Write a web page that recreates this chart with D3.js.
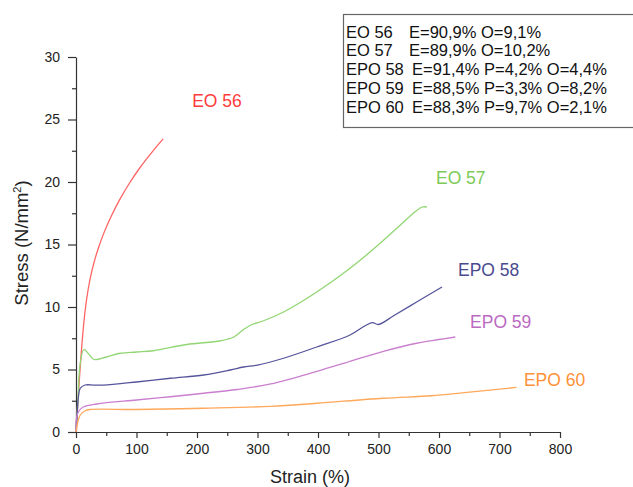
<!DOCTYPE html>
<html>
<head>
<meta charset="utf-8">
<script src="https://cdn.jsdelivr.net/npm/d3@7"></script>
<style>
  body { margin: 0; background: #fff; }
  svg { font-family: "Liberation Sans", Arial, sans-serif; }
  .axis path, .axis line { stroke: #333; stroke-width: 1.2; }
  .axis text { fill: #222; font-size: 14px; }
</style>
</head>
<body>
<div id="chart"></div>
<script>
// series (strain %, stress N/mm2)
var eo56Strain = [0, 2, 4, 6.5, 9.5, 12.5, 16, 20, 25, 31, 38, 47, 58, 72, 88, 105, 125, 144];
var eo56Stress = [0, 1.54, 3.06, 4.86, 6.84, 8.52, 10.06, 11.38, 12.63, 13.77, 14.86, 16.03, 17.24, 18.57, 19.88, 21.1, 22.35, 23.45];

var eo57Strain = [0, 3, 7, 13, 20, 30, 50, 73, 100, 128, 183, 239, 261, 277, 291, 310, 343, 398, 453, 498, 537, 560, 572, 580];
var eo57Stress = [0, 2.5, 5.5, 6.6, 6.3, 5.8, 6.0, 6.3, 6.4, 6.5, 7.0, 7.3, 7.6, 8.2, 8.6, 8.9, 9.6, 11.2, 13.1, 14.9, 16.6, 17.6, 18.0, 18.0];

var epo58Strain = [0, 2, 4, 7, 15, 30, 45, 100, 156, 211, 255, 277, 300, 343, 398, 453, 478, 490, 500, 525, 563, 605];
var epo58Stress = [0, 1.5, 2.8, 3.5, 3.76, 3.75, 3.75, 4.0, 4.3, 4.56, 4.96, 5.2, 5.35, 5.9, 6.8, 7.76, 8.5, 8.75, 8.6, 9.3, 10.4, 11.6];

var epo59Strain = [0, 1, 5, 12, 34, 100, 156, 211, 266, 322, 398, 453, 508, 563, 600, 627];
var epo59Stress = [0, 1.2, 1.7, 2.0, 2.24, 2.56, 2.82, 3.1, 3.4, 3.85, 4.85, 5.65, 6.45, 7.1, 7.4, 7.6];

var epo60Strain = [0, 3, 7, 15, 23, 100, 211, 322, 398, 508, 587, 642, 728];
var epo60Stress = [0, 0.8, 1.36, 1.7, 1.8, 1.8, 1.9, 2.05, 2.3, 2.7, 2.9, 3.15, 3.57];

var names = ["EO 56", "EO 57", "EPO 58", "EPO 59", "EPO 60"];
var lineColors = ["#ff6464", "#92d673", "#55559c", "#c97fce", "#ffa85a"];
var labelColors = ["#ff3c3c", "#7ccb58", "#4b4b8f", "#bb6ac2", "#ff9138"];
// label anchor points in data units (strain, stress)
var labelStrain = [233, 636, 682, 702, 791];
var labelStress = [26.0, 19.84, 12.48, 8.32, 3.68];

var legendNames = ["EO 56", "EO 57", "EPO 58", "EPO 59", "EPO 60"];
var legendText = ["E=90,9% O=9,1%", "E=89,9% O=10,2%", "E=91,4% P=4,2% O=4,4%", "E=88,5% P=3,3% O=8,2%", "E=88,3% P=9,7% O=2,1%"];

var xTicks = [0, 100, 200, 300, 400, 500, 600, 700, 800];
var yTicks = [0, 5, 10, 15, 20, 25, 30];

var W = 633, H = 487;
var svg = d3.select("#chart").append("svg").attr("width", W).attr("height", H);

var x = d3.scaleLinear().domain([0, 800]).range([76, 560]);
var y = d3.scaleLinear().domain([0, 30]).range([432, 57]);

// minor ticks
svg.append("g").attr("class", "axis")
  .attr("transform", "translate(0,432)")
  .call(d3.axisBottom(x).tickValues(d3.range(50, 800, 100)).tickSize(4).tickFormat(""))
  .select(".domain").remove();
svg.append("g").attr("class", "axis")
  .attr("transform", "translate(76,0)")
  .call(d3.axisLeft(y).tickValues(d3.range(2.5, 30, 5)).tickSize(4).tickFormat(""))
  .select(".domain").remove();

// major axes
svg.append("g").attr("class", "axis")
  .attr("transform", "translate(0,432)")
  .call(d3.axisBottom(x).tickValues(xTicks).tickSize(6).tickSizeOuter(0).tickPadding(6));
svg.append("g").attr("class", "axis")
  .attr("transform", "translate(76,0)")
  .call(d3.axisLeft(y).tickValues(yTicks).tickSize(8).tickSizeOuter(0).tickPadding(8));

// axis titles
svg.append("text").attr("x", 310).attr("y", 483).attr("text-anchor", "middle")
  .style("font-size", "18px").attr("fill", "#222").text("Strain (%)");
var yt = svg.append("text").attr("transform", "translate(28,243) rotate(-90)")
  .attr("text-anchor", "middle").style("font-size", "18.5px").attr("fill", "#222");
yt.append("tspan").text("Stress (N/mm");
yt.append("tspan").attr("dy", -7).style("font-size", "11px").text("2");
yt.append("tspan").attr("dy", 7).text(")");

// curves
var series = [
  [eo56Strain, eo56Stress],
  [eo57Strain, eo57Stress],
  [epo58Strain, epo58Stress],
  [epo59Strain, epo59Stress],
  [epo60Strain, epo60Stress]
];
var line = d3.line().x(d => x(d[0])).y(d => y(d[1])).curve(d3.curveCatmullRom.alpha(0.5));

series.forEach((s, i) => {
  svg.append("path")
    .attr("d", line(d3.zip(s[0], s[1])))
    .attr("fill", "none")
    .attr("stroke", lineColors[i])
    .attr("stroke-width", 1.3);
  svg.append("text")
    .attr("x", x(labelStrain[i])).attr("y", y(labelStress[i]))
    .attr("text-anchor", "middle")
    .style("font-size", "17.5px")
    .attr("fill", labelColors[i])
    .text(names[i]);
});

// legend box
svg.append("rect").attr("x", 343.5).attr("y", 14.5).attr("width", 300).attr("height", 113)
  .attr("fill", "#fff").attr("stroke", "#666").attr("stroke-width", 1.2);
legendNames.forEach((n, i) => {
  var ty = 37.5 + i * 18.9;
  svg.append("text").attr("x", 346).attr("y", ty).style("font-size", "16.5px").attr("fill", "#111").text(n);
  svg.append("text").attr("x", i < 2 ? 409 : 412).attr("y", ty).style("font-size", "16.5px").attr("fill", "#111").text(legendText[i]);
});
</script>
</body>
</html>
